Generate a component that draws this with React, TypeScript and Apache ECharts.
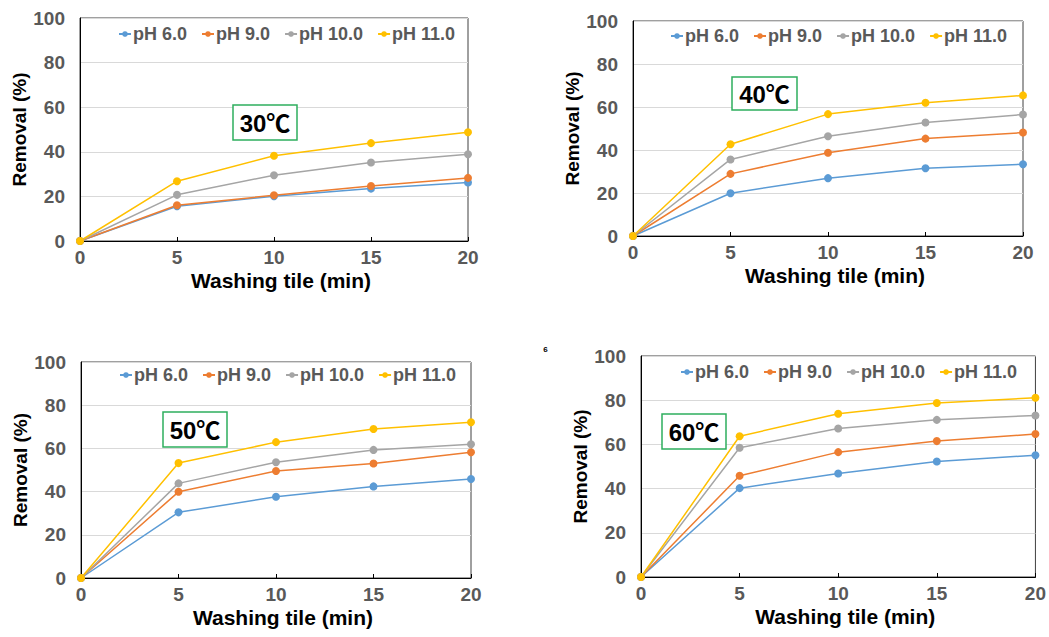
import React, { useEffect, useRef } from "react";
import * as echarts from "echarts";

// Washing time (min) on the x axis
const washTimes = [0, 5, 10, 15, 20];
const phLabels = ["pH 6.0", "pH 9.0", "pH 10.0", "pH 11.0"];
const phColors = ["#5B9BD5", "#ED7D31", "#A5A5A5", "#FFC000"];
const yTicks = [0, 20, 40, 60, 80, 100];
const temperatures = ["30℃", "40℃", "50℃", "60℃"];

// Removal (%) per pH, one list per temperature
const removal30 = [
  [0, 15.6, 20.1, 23.5, 26.2],
  [0, 16.0, 20.5, 24.7, 28.3],
  [0, 20.7, 29.5, 35.2, 38.9],
  [0, 26.8, 38.2, 43.9, 48.8],
];
const removal40 = [
  [0, 19.9, 26.9, 31.5, 33.4],
  [0, 28.9, 38.7, 45.3, 48.1],
  [0, 35.6, 46.4, 52.8, 56.5],
  [0, 42.7, 56.7, 62.0, 65.4],
];
const removal50 = [
  [0, 30.4, 37.6, 42.4, 45.8],
  [0, 39.9, 49.5, 53.0, 58.2],
  [0, 43.8, 53.6, 59.3, 61.9],
  [0, 53.2, 62.9, 69.0, 72.1],
];
const removal60 = [
  [0, 40.2, 46.8, 52.3, 55.1],
  [0, 45.8, 56.5, 61.5, 64.7],
  [0, 58.5, 67.2, 71.1, 73.1],
  [0, 63.7, 73.9, 78.7, 81.1],
];
const removalByTemp = [removal30, removal40, removal50, removal60];

// Panel layout: plot rectangle, legend anchor, temperature box
const panels = [
  { grid: { left: 80, top: 18, width: 388, height: 223 }, legend: { left: 113, top: 20 }, box: { x: 233, y: 105, w: 64, h: 35 } },
  { grid: { left: 633, top: 21, width: 390, height: 215 }, legend: { left: 665, top: 22 }, box: { x: 732, y: 77, w: 65, h: 33 } },
  { grid: { left: 81, top: 362, width: 390, height: 216 }, legend: { left: 114, top: 361 }, box: { x: 163, y: 412, w: 64, h: 35 } },
  { grid: { left: 641, top: 356, width: 396, height: 221 }, legend: { left: 675, top: 358 }, box: { x: 662, y: 414, w: 64, h: 35 } },
];

const FONT = "Arial, 'Liberation Sans', 'DejaVu Sans', sans-serif";
const TEMP_FONT = "Arial, 'Liberation Sans', 'Noto Sans CJK SC', sans-serif";
const LABEL_GRAY = "#595959";

export default function App() {
  const ref = useRef<HTMLDivElement>(null);

  useEffect(() => {
    if (!ref.current) return;
    const chart = echarts.init(ref.current, undefined, { renderer: "svg" });

    const grids = panels.map((p) => ({
      ...p.grid,
      show: true,
      borderColor: "#404040",
      borderWidth: 1,
      backgroundColor: "transparent",
    }));

    const xAxes = panels.map((_, i) => ({
      type: "value",
      gridIndex: i,
      min: washTimes[0],
      max: washTimes[washTimes.length - 1],
      interval: 5,
      name: "Washing tile (min)",
      nameLocation: "middle",
      nameGap: 29,
      nameTextStyle: { fontFamily: FONT, fontWeight: "bold", fontSize: 21, color: "#000", padding: [0, 0, 0, 14] },
      axisLine: { show: true, lineStyle: { color: "#000", width: 1 } },
      axisTick: { show: true, inside: true, length: 4, lineStyle: { color: "#000" } },
      splitLine: { show: false },
      axisLabel: { fontFamily: FONT, fontWeight: "bold", fontSize: 19, color: LABEL_GRAY, margin: 7 },
    }));

    const yAxes = panels.map((_, i) => ({
      type: "value",
      gridIndex: i,
      min: yTicks[0],
      max: yTicks[yTicks.length - 1],
      interval: 20,
      name: "Removal (%)",
      nameLocation: "middle",
      nameGap: 48,
      nameTextStyle: { fontFamily: FONT, fontWeight: "bold", fontSize: 19, color: "#000" },
      axisLine: { show: true, lineStyle: { color: "#000", width: 1 } },
      axisTick: { show: false },
      splitLine: { show: true, lineStyle: { color: "#D9D9D9", width: 1 } },
      axisLabel: { fontFamily: FONT, fontWeight: "bold", fontSize: 19, color: LABEL_GRAY, margin: 15 },
    }));

    const series: any[] = [];
    removalByTemp.forEach((sets, gi) => {
      sets.forEach((vals, si) => {
        series.push({
          type: "line",
          name: phLabels[si],
          xAxisIndex: gi,
          yAxisIndex: gi,
          data: washTimes.map((t, k) => [t, vals[k]]),
          symbol: "circle",
          symbolSize: 8,
          itemStyle: { color: phColors[si] },
          lineStyle: { color: phColors[si], width: 1.5 },
        });
      });
    });

    const legends = panels.map((p) => ({
      data: phLabels,
      left: p.legend.left,
      top: p.legend.top,
      orient: "horizontal",
      itemWidth: 12,
      itemHeight: 7,
      itemGap: 14,
      selectedMode: false,
      textStyle: { fontFamily: FONT, fontWeight: "bold", fontSize: 18, color: LABEL_GRAY, padding: [0, 0, 0, -3] },
    }));

    const graphics: any[] = [];
    panels.forEach((p, i) => {
      graphics.push({
        type: "rect",
        shape: { x: p.box.x, y: p.box.y, width: p.box.w, height: p.box.h },
        style: { fill: "#fff", stroke: "#2EAE5E", lineWidth: 1.5 },
        z: 10,
      });
      graphics.push({
        type: "text",
        x: p.box.x + p.box.w / 2,
        y: p.box.y + p.box.h / 2 + 1,
        style: {
          text: temperatures[i],
          font: `bold 24px ${TEMP_FONT}`,
          fill: "#000",
          align: "center",
          verticalAlign: "middle",
        },
        z: 11,
      });
    });
    graphics.push({
      type: "text",
      x: 545.5,
      y: 349,
      style: { text: "6", font: `bold 8px ${FONT}`, fill: "#000", align: "center", verticalAlign: "middle" },
    });

    chart.setOption({
      animation: false,
      backgroundColor: "#fff",
      grid: grids,
      xAxis: xAxes,
      yAxis: yAxes,
      legend: legends,
      series,
      graphic: graphics,
    });

    return () => chart.dispose();
  }, []);

  return (
    <div
      ref={ref}
      style={{ position: "absolute", left: 0, top: 0, width: 1049, height: 637 }}
    />
  );
}
